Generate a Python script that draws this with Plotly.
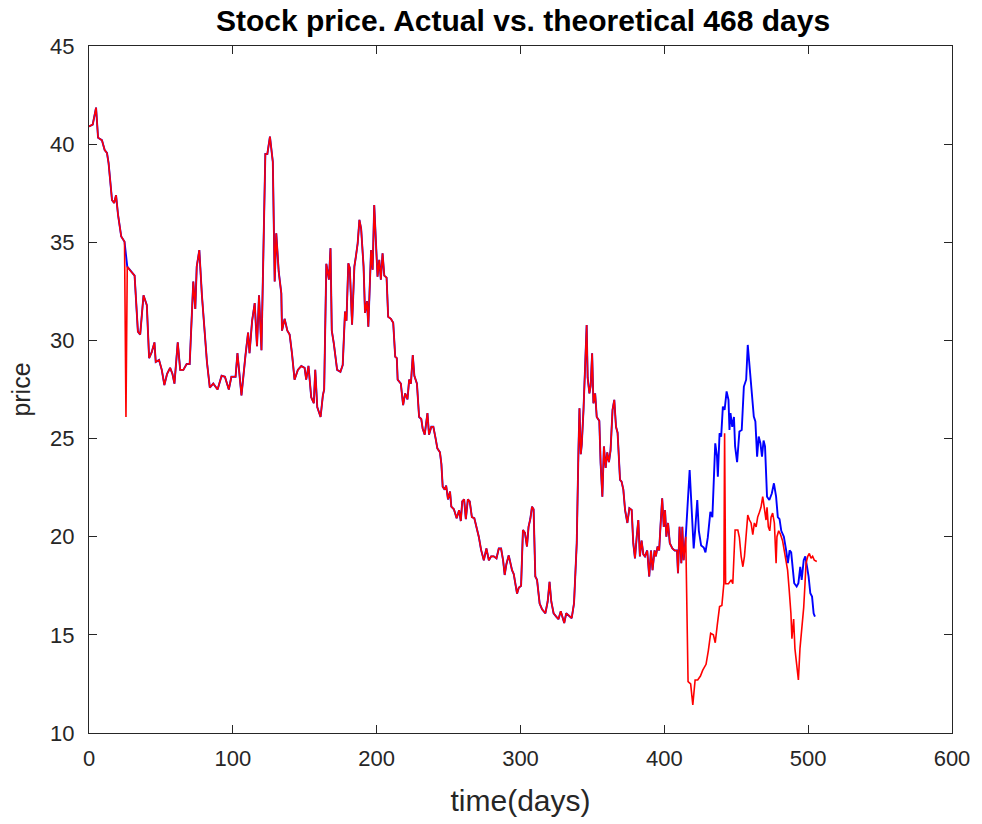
import plotly.graph_objects as go

# Shared history (actual == theoretical), days 0 .. ~415
hist_days = [
    0, 2.6, 4.9, 6.3, 9, 10.9, 12.5, 13.6, 16, 17.5,
    18.8, 20.2, 22.4, 24.7, 26.6, 29.4, 31.7, 34, 35.6, 37.9,
    40.2, 41.8, 43.6, 45.5, 46.4, 48.7, 50.6, 52.4, 54.3, 56.4,
    58, 59.4, 61.7, 63.4, 65.6, 67.9, 70, 72.5, 73.9, 74.9,
    76.7, 78.5, 80.5, 82, 84, 86.4, 89.4, 92.2, 94.5, 97.2,
    99, 101.9, 103.2, 106, 108.8, 110.6, 111.6, 113.4, 115.2, 116.8,
    118.2, 119.9, 122.6, 124, 125.8, 127.8, 129.1, 130.2, 131.9, 133.7,
    134.2, 136, 137.9, 139.5, 141.1, 142.9, 145.2, 147.6, 149.9, 151,
    152.6, 154.5, 156.3, 157.3, 158.7, 161, 162.6, 163.5, 165, 166.8,
    167.9, 168.8, 170.2, 172.5, 174.8, 176.4, 178, 179, 180.3, 181.3,
    182.9, 184.5, 185.6, 186.8, 188, 189.2, 190.9, 191.9, 193.3, 194.2,
    196.1, 197.2, 198.3, 199.5, 200.6, 201.8, 202.9, 204.1, 205.3, 206.9,
    208, 209.9, 211.5, 212.9, 214, 214.6, 216.8, 218.4, 219.8, 221.4,
    222.6, 223.8, 225.1, 226.2, 228, 229.5, 231, 232, 233.4, 235.3,
    236.4, 238, 239.4, 241, 242.2, 244, 245, 245.9, 247.3, 248.3,
    249.6, 251, 251.9, 253.7, 255.6, 257.3, 258.5, 259.5, 260.8, 262,
    263.4, 264.7, 266.2, 267.9, 269.4, 271, 272.6, 274.5, 276.3, 278,
    279.6, 281.4, 283.3, 284.9, 286.5, 287.9, 289, 290.2, 291.8, 293,
    294.1, 295.3, 296.5, 297.6, 298.8, 300.4, 301.7, 303.1, 304.5, 305.6,
    306.8, 308, 309.1, 310.3, 311.5, 313.3, 315, 317.3, 318.9, 320.2,
    321.4, 323, 324.8, 326.4, 328, 329.4, 330.4, 331.8, 333.4, 335.6,
    337.2, 339.1, 340.3, 341, 341.9, 342.6, 343.8, 345, 346, 346.7,
    347.9, 348.8, 349.8, 350.7, 351.9, 353, 354.8, 355.7, 356.9, 358,
    359.2, 360.3, 361.5, 362.6, 364, 365.2, 366.4, 367.5, 369.2, 370.3,
    371.5, 372.7, 374.3, 375.7, 377.3, 378.4, 379.6, 380.8, 381.9, 383,
    384.2, 385.4, 386.5, 388.1, 389.5, 390.7, 391.8, 393.2, 394.1, 395.3,
    396.4, 397.3, 398.5, 399.6, 400.5, 401.4, 402.6, 403.8, 405.6, 407.2,
    408.8, 409.5, 410.6, 411.8, 412.5, 413.4, 414.9,
]
hist_price = [
    40.9, 41.0, 41.86, 40.33, 40.2, 39.7, 39.55, 39.04, 37.15, 37.0,
    37.4, 36.4, 35.3, 35.03, 33.76, 33.5, 33.3, 30.45, 30.3, 32.3,
    31.8, 29.1, 29.4, 29.9, 28.9, 29.0, 28.5, 27.73, 28.3, 28.6,
    28.3, 27.8, 29.9, 28.5, 28.5, 28.8, 28.8, 33.0, 31.6, 33.76,
    34.6, 32.3, 30.5, 28.9, 27.6, 27.8, 27.5, 28.2, 28.15, 27.5,
    28.15, 28.15, 29.35, 27.2, 29.25, 30.4, 29.35, 31.0, 31.9, 29.7,
    32.3, 29.5, 39.5, 39.5, 40.38, 39.1, 33.0, 35.46, 33.5, 32.4,
    30.5, 31.1, 30.5, 30.3, 29.35, 28.0, 28.5, 28.7, 28.6, 28.0,
    28.7, 27.1, 26.8, 28.5, 26.6, 26.1, 27.2, 27.5, 33.9, 33.1,
    34.7, 30.5, 29.85, 28.5, 28.4, 28.75, 31.47, 31.0, 33.93, 33.7,
    30.8, 33.76, 34.3, 34.95, 36.14, 35.7, 33.76, 31.4, 32.0, 30.7,
    34.6, 33.6, 36.9, 35.1, 33.25, 34.1, 33.1, 34.44, 33.3, 33.2,
    31.2, 31.1, 30.9, 29.17, 29.1, 28.0, 27.8, 26.7, 27.3, 27.0,
    28.0, 27.8, 29.25, 28.2, 27.8, 26.1, 26.0, 25.5, 25.2, 26.3,
    25.2, 25.6, 25.6, 25.0, 24.5, 24.3, 23.7, 22.55, 22.4, 22.6,
    21.9, 22.3, 21.53, 21.4, 20.94, 21.35, 20.8, 21.8, 21.9, 20.9,
    21.9, 21.8, 21.0, 20.94, 20.5, 20.0, 19.33, 18.8, 19.4, 18.8,
    19.0, 19.0, 18.9, 19.4, 19.4, 18.8, 18.05, 18.6, 19.05, 18.6,
    18.3, 18.1, 17.46, 17.1, 17.4, 17.5, 20.34, 20.2, 19.5, 20.5,
    20.9, 21.53, 21.4, 17.97, 17.8, 16.6, 16.3, 16.1, 16.7, 17.7,
    16.7, 16.1, 15.93, 15.8, 16.2, 15.8, 15.6, 16.1, 16.0, 15.85,
    16.6, 19.67, 24.4, 26.54, 24.2, 24.7, 26.46, 28.7, 30.79, 28.1,
    27.3, 27.7, 29.35, 26.8, 27.3, 26.1, 25.9, 23.74, 22.04, 24.6,
    23.5, 24.3, 23.8, 24.4, 26.46, 26.97, 25.6, 25.3, 22.9, 22.8,
    22.4, 21.36, 20.7, 21.45, 21.36, 19.67, 18.9, 20.0, 20.85, 19.0,
    19.8, 19.1, 19.0, 19.3, 17.97, 19.3, 18.3, 19.3, 19.0, 19.5,
    19.3, 20.5, 21.96, 20.5, 21.36, 20.0, 20.7, 19.67, 19.4, 19.3,
    19.3, 18.14, 20.5, 18.65, 20.5, 18.8, 20.0,
]

# One-day glitch present only in the actual series
glitch_day = 25.7
glitch_price = 26.1

# Actual prices after the two series separate
actual_days = [
    416.5, 418.3, 419.8, 421.4, 423.2, 425.1, 426.7, 429, 430.6, 432.2,
    434.1, 435.4, 436.8, 438.4, 440, 441.4, 441.9, 442.6, 444.6, 446.5,
    447.6, 449.2, 451.1, 452.2, 453.4, 454.6, 455.7, 456.9, 458, 459.2,
    460.3, 461.5, 462.6, 463.8, 464.9, 466.1, 467.2, 468.4, 469.6, 470.7,
    471.4, 472.3, 473.3, 474.2, 475.3, 476.5, 477.7, 478.3, 479.5, 480.6,
    482.2, 483.4, 484.5, 485.7, 486.8, 488, 488.7, 489.9, 490.8, 492,
    493.2, 494.3, 495.5, 496.9, 497.8, 498.5, 499.7, 500.8, 502, 503.1,
    504.3, 506,
]
actual_price = [
    12.62, 12.5, 11.43, 12.7, 12.7, 12.9, 13.2, 13.5, 14.2, 15.08,
    15.0, 14.6, 15.5, 16.44, 16.5, 17.63, 25.27, 17.6, 17.6, 17.8,
    17.6, 20.34, 20.34, 19.95, 19.0, 18.47, 19.0, 20.0, 21.1, 20.85,
    20.7, 20.1, 20.7, 20.5, 21.0, 21.25, 21.5, 22.04, 21.3, 20.85,
    21.5, 20.5, 20.3, 21.0, 21.2, 20.7, 18.65, 20.0, 20.3, 20.15,
    19.8, 19.3, 19.0, 18.3, 17.3, 16.1, 14.8, 15.8, 14.3, 13.4,
    12.7, 14.3, 15.3, 16.4, 17.6, 18.65, 19.0, 19.15, 18.9, 19.0,
    18.8, 18.74,
]

# Theoretical prices after the two series separate
model_days = [
    417.6, 418.7, 420.4, 421.4, 422.9, 424, 425.6, 427.4, 428.6, 430.2,
    432, 433.4, 434.3, 435.4, 436.6, 437.2, 438.4, 439.5, 440.7, 441.9,
    443.3, 444.6, 445.3, 446, 447.2, 448.4, 449.2, 450.6, 452.2, 453.8,
    455.3, 456.9, 458, 459.2, 460.3, 462.2, 463.3, 464.5, 465.6, 466.8,
    467.9, 469, 470, 471.4, 473, 474.7, 476.2, 477.7, 478.9, 480.1,
    481.3, 483.1, 484.7, 485.9, 487.1, 488.2, 489.4, 490.3, 492, 493.2,
    494.5, 495.5, 496.9, 498, 499.2, 500.3, 501.5, 502.7, 503.8, 504.7,
]
model_price = [
    23.4, 21.7, 19.4, 20.3, 21.87, 20.3, 19.55, 19.45, 19.2, 19.95,
    21.27, 21.0, 23.2, 24.76, 24.1, 23.06, 25.27, 25.1, 26.63, 26.46,
    27.4, 26.97, 25.44, 26.3, 25.6, 26.1, 24.6, 23.8, 25.36, 25.44,
    27.65, 28.0, 29.77, 28.66, 27.46, 26.12, 25.87, 24.08, 25.1, 24.76,
    24.08, 24.9, 24.6, 22.04, 21.87, 22.2, 22.72, 22.04, 21.0, 20.9,
    20.3, 20.0, 19.3, 18.65, 19.3, 19.2, 18.3, 17.63, 17.46, 17.63,
    18.47, 17.8, 18.8, 19.0, 18.47, 17.97, 17.12, 16.95, 16.1, 15.93,
]

x_ticks = [0, 100, 200, 300, 400, 500, 600]
y_ticks = [10, 15, 20, 25, 30, 35, 40, 45]

# Build the two traces
k = next(i for i, d in enumerate(hist_days) if d > glitch_day)
red_x = hist_days[:k] + [glitch_day] + hist_days[k:] + actual_days
red_y = hist_price[:k] + [glitch_price] + hist_price[k:] + actual_price
blue_x = hist_days + model_days
blue_y = hist_price + model_price

FONT = "Liberation Sans, Arial, Helvetica, sans-serif"
AX = "#262626"

fig = go.Figure()
fig.add_trace(go.Scatter(x=blue_x, y=blue_y, mode="lines",
                         line=dict(color="#0000FF", width=1.9), showlegend=False))
fig.add_trace(go.Scatter(x=red_x, y=red_y, mode="lines",
                         line=dict(color="#FF0000", width=1.6), showlegend=False))

axis_common = dict(
    showgrid=False, zeroline=False, showline=True, linecolor=AX, linewidth=1.3,
    mirror="ticks", ticks="inside", ticklen=8, tickwidth=1, tickcolor=AX,
    tickfont=dict(family=FONT, size=22, color=AX),
)
fig.update_layout(
    width=982, height=824,
    margin=dict(l=89, r=25, t=46, b=91),
    paper_bgcolor="white", plot_bgcolor="white",
    title=dict(text="<b>Stock price. Actual vs. theoretical 468 days</b>",
               x=(89 + 957) / 2 / 982, xanchor="center", y=0.975, yanchor="middle",
               font=dict(family=FONT, size=30, color="black")),
    xaxis=dict(range=[0, 600], tickvals=x_ticks, ticklabelstandoff=5,
               title=dict(text="time(days)", font=dict(family=FONT, size=30, color=AX), standoff=20),
               **axis_common),
    yaxis=dict(range=[10, 45], tickvals=y_ticks, ticklabelstandoff=9,
               title=dict(text="price", font=dict(family=FONT, size=25, color=AX), standoff=12),
               **axis_common),
)

fig.write_html("out.html")
